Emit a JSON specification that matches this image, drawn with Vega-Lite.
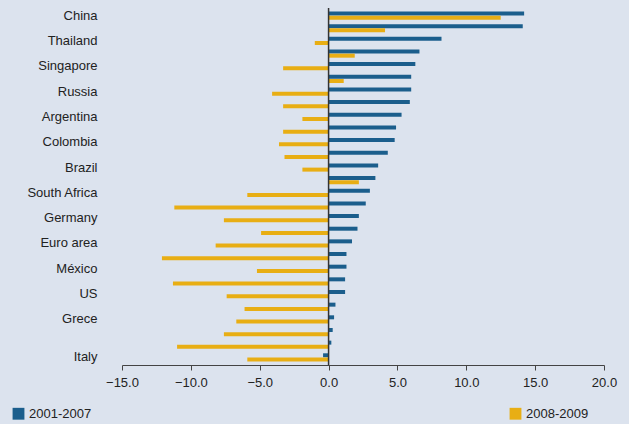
{
  "$schema": "https://vega.github.io/schema/vega-lite/v6.json",
  "width": 482,
  "height": 357,
  "autosize": "none",
  "padding": {"left": 122, "top": 8, "right": 25, "bottom": 59},
  "background": "#dce3ee",
  "config": {"view": {"stroke": null}, "font": "Liberation Sans"},
  "data": {
    "values": [
      {"c": "China", "p": "2001-2007", "v": 14.2}, {"c": "China", "p": "2008-2009", "v": 12.5},
      {"c": "c2", "p": "2001-2007", "v": 14.1}, {"c": "c2", "p": "2008-2009", "v": 4.1},
      {"c": "Thailand", "p": "2001-2007", "v": 8.2}, {"c": "Thailand", "p": "2008-2009", "v": -1.0},
      {"c": "c4", "p": "2001-2007", "v": 6.6}, {"c": "c4", "p": "2008-2009", "v": 1.9},
      {"c": "Singapore", "p": "2001-2007", "v": 6.3}, {"c": "Singapore", "p": "2008-2009", "v": -3.3},
      {"c": "c6", "p": "2001-2007", "v": 6.0}, {"c": "c6", "p": "2008-2009", "v": 1.1},
      {"c": "Russia", "p": "2001-2007", "v": 6.0}, {"c": "Russia", "p": "2008-2009", "v": -4.1},
      {"c": "c8", "p": "2001-2007", "v": 5.9}, {"c": "c8", "p": "2008-2009", "v": -3.3},
      {"c": "Argentina", "p": "2001-2007", "v": 5.3}, {"c": "Argentina", "p": "2008-2009", "v": -1.9},
      {"c": "c10", "p": "2001-2007", "v": 4.9}, {"c": "c10", "p": "2008-2009", "v": -3.3},
      {"c": "Colombia", "p": "2001-2007", "v": 4.8}, {"c": "Colombia", "p": "2008-2009", "v": -3.6},
      {"c": "c12", "p": "2001-2007", "v": 4.3}, {"c": "c12", "p": "2008-2009", "v": -3.2},
      {"c": "Brazil", "p": "2001-2007", "v": 3.6}, {"c": "Brazil", "p": "2008-2009", "v": -1.9},
      {"c": "c14", "p": "2001-2007", "v": 3.4}, {"c": "c14", "p": "2008-2009", "v": 2.2},
      {"c": "South Africa", "p": "2001-2007", "v": 3.0}, {"c": "South Africa", "p": "2008-2009", "v": -5.9},
      {"c": "c16", "p": "2001-2007", "v": 2.7}, {"c": "c16", "p": "2008-2009", "v": -11.2},
      {"c": "Germany", "p": "2001-2007", "v": 2.2}, {"c": "Germany", "p": "2008-2009", "v": -7.6},
      {"c": "c18", "p": "2001-2007", "v": 2.1}, {"c": "c18", "p": "2008-2009", "v": -4.9},
      {"c": "Euro area", "p": "2001-2007", "v": 1.7}, {"c": "Euro area", "p": "2008-2009", "v": -8.2},
      {"c": "c20", "p": "2001-2007", "v": 1.3}, {"c": "c20", "p": "2008-2009", "v": -12.1},
      {"c": "México", "p": "2001-2007", "v": 1.3}, {"c": "México", "p": "2008-2009", "v": -5.2},
      {"c": "c22", "p": "2001-2007", "v": 1.2}, {"c": "c22", "p": "2008-2009", "v": -11.3},
      {"c": "US", "p": "2001-2007", "v": 1.2}, {"c": "US", "p": "2008-2009", "v": -7.4},
      {"c": "c24", "p": "2001-2007", "v": 0.5}, {"c": "c24", "p": "2008-2009", "v": -6.1},
      {"c": "Grece", "p": "2001-2007", "v": 0.4}, {"c": "Grece", "p": "2008-2009", "v": -6.7},
      {"c": "c26", "p": "2001-2007", "v": 0.3}, {"c": "c26", "p": "2008-2009", "v": -7.6},
      {"c": "c27", "p": "2001-2007", "v": 0.2}, {"c": "c27", "p": "2008-2009", "v": -11.0},
      {"c": "Italy", "p": "2001-2007", "v": -0.4}, {"c": "Italy", "p": "2008-2009", "v": -5.9}
    ]
  },
  "layer": [
    {
      "mark": {"type": "bar", "height": 4},
      "encoding": {
        "y": {
          "field": "c", "type": "nominal", "sort": null, "title": null,
          "scale": {"paddingInner": 0, "paddingOuter": 0.1},
          "axis": {"domain": false, "ticks": false, "labelPadding": 25, "labelFontSize": 13, "labelColor": "#222",
                   "labelExpr": "indexof(datum.value, 'c') == 0 && length(datum.value) <= 3 ? '' : datum.value"}
        },
        "yOffset": {"field": "p", "type": "nominal", "scale": {"paddingInner": 0, "paddingOuter": 0.5}},
        "x": {
          "field": "v", "type": "quantitative", "title": null,
          "scale": {"domain": [-15, 20], "nice": false},
          "axis": {"values": [-15, -10, -5, 0, 5, 10, 15, 20], "format": ".1f", "grid": false, "labelFlush": false, "domainColor": "#444", "tickColor": "#444", "tickSize": 5, "labelFontSize": 13, "labelColor": "#222", "labelPadding": 6}
        },
        "color": {
          "field": "p", "type": "nominal", "title": null,
          "scale": {"range": ["#1b5e8c", "#e8ae14"]},
          "legend": {"orient": "none", "legendX": -110, "legendY": 399, "direction": "horizontal", "columnPadding": 417, "symbolType": "square", "symbolSize": 140, "symbolStrokeWidth": 0, "labelFontSize": 13, "labelColor": "#222", "padding": 0}
        }
      }
    },
    {
      "data": {"values": [{"x": 0}]},
      "mark": {"type": "rule", "color": "#333", "strokeWidth": 1.5},
      "encoding": {"x": {"field": "x", "type": "quantitative"}}
    }
  ]
}
